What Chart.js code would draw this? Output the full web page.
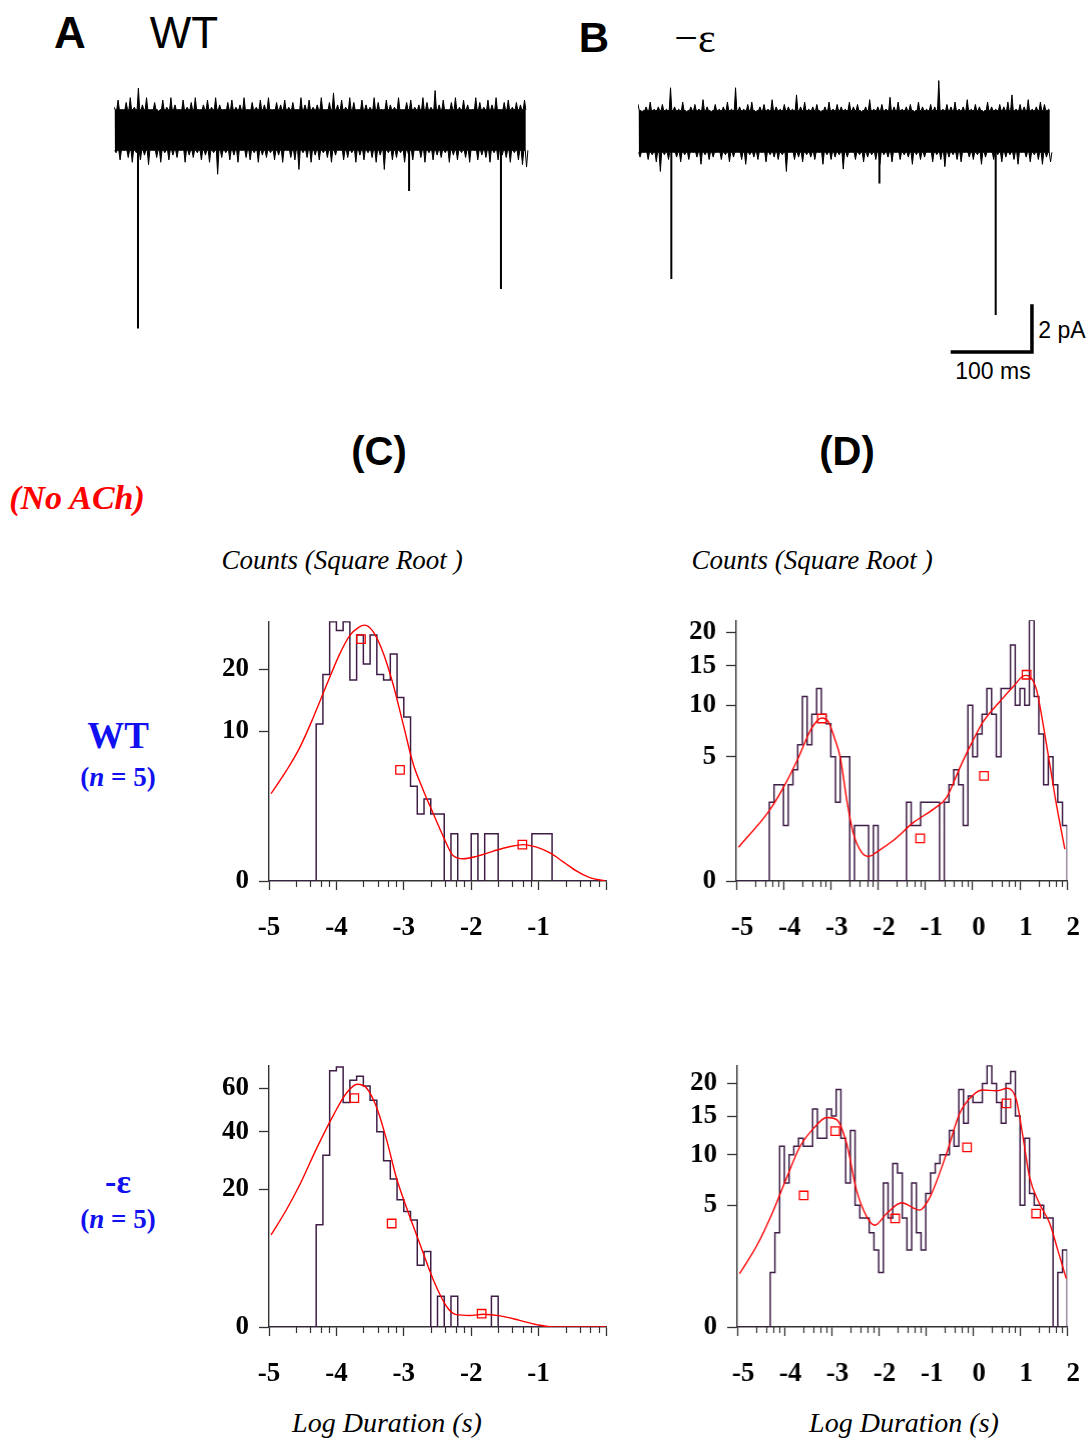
<!DOCTYPE html>
<html>
<head>
<meta charset="utf-8">
<script src="https://cdn.jsdelivr.net/npm/chart.js@4.4.1/dist/chart.umd.min.js"></script>
<style>
  html, body { margin: 0; padding: 0; background: #fff; }
  body { width: 1089px; height: 1440px; position: relative; overflow: hidden; }
  canvas { position: absolute; }
  .t { position: absolute; white-space: nowrap; line-height: 1; transform: translate(-50%, -50%); }
  .sans { font-family: 'Liberation Sans', Arial, sans-serif; }
  .serif { font-family: 'Liberation Serif', 'Times New Roman', serif; }
  .blue { color: #1010f0; font-weight: bold; }
</style>
</head>
<body>

<div class="t sans" style="left:70px; top:33px; font-size:44px; font-weight:bold">A</div>
<div class="t sans" style="left:184px; top:33px; font-size:44px">WT</div>
<div class="t sans" style="left:594px; top:38px; font-size:42px; font-weight:bold">B</div>
<div class="t serif" style="left:695px; top:38px; font-size:42px">&minus;&epsilon;</div>
<div class="t sans" style="left:1062px; top:330px; font-size:23px">2 pA</div>
<div class="t sans" style="left:993px; top:371px; font-size:23px">100 ms</div>

<div class="t sans" style="left:379px; top:451px; font-size:40px; font-weight:bold">(C)</div>
<div class="t sans" style="left:847px; top:451px; font-size:40px; font-weight:bold">(D)</div>
<div class="t serif" style="left:77px; top:498px; font-size:34px; font-weight:bold; font-style:italic; color:#ff0000">(No ACh)</div>

<div class="t serif" style="left:342px; top:560px; font-size:27px; font-style:italic">Counts (Square Root )</div>
<div class="t serif" style="left:812px; top:560px; font-size:27px; font-style:italic">Counts (Square Root )</div>

<div class="t serif blue" style="left:118px; top:735px; font-size:37px">WT</div>
<div class="t serif blue" style="left:118px; top:777px; font-size:27px">(<i>n</i> = 5)</div>
<div class="t serif blue" style="left:118px; top:1182px; font-size:34px">-&epsilon;</div>
<div class="t serif blue" style="left:118px; top:1219px; font-size:27px">(<i>n</i> = 5)</div>

<div class="t serif" style="left:387px; top:1423px; font-size:28px; font-style:italic">Log Duration (s)</div>
<div class="t serif" style="left:904px; top:1423px; font-size:28px; font-style:italic">Log Duration (s)</div>

<script>
// ---- single-channel traces (pA vs ms), noise peaks sampled every 5 ms ----
const traceStep = 5;
const coreA = [0.8, -0.9];   // edges of the dense noise band
const coreB = [0.85, -0.9];
const upperA = [
  0.9,1.2,0.8,1.1,1.3,0.9,1.7,1.0,1.3,0.8,
  1.1,0.7,1.2,0.9,1.3,1.0,0.8,1.2,0.9,1.1,
  1.3,0.8,1.0,1.2,0.9,1.3,1.0,0.8,1.1,1.2,
  0.9,1.0,1.3,0.8,1.1,0.9,1.2,1.0,1.3,0.8,
  1.1,1.0,1.2,0.9,1.1,0.8,1.3,1.0,1.2,0.9,
  1.0,1.3,0.8,1.1,1.5,1.0,1.2,0.9,1.3,1.1,
  0.8,1.2,1.0,0.9,1.3,1.1,0.8,1.2,1.0,0.9,
  1.3,0.8,1.1,1.2,0.9,1.0,1.3,1.1,0.9,1.6,
  1.0,1.2,0.8,1.1,1.3,0.9,1.2,1.0,0.8,1.3,
  1.1,0.9,1.2,1.0,1.3,0.8,1.1,1.2,0.9,1.1,
  1.0,1.2
];
const lowerA = [
  -1.0,-1.3,-0.9,-1.2,-1.4,-1.0,-1.3,-1.1,-1.5,-0.9,
  -1.2,-1.4,-1.0,-1.3,-1.1,-1.2,-0.9,-1.4,-1.1,-1.2,
  -1.0,-1.3,-1.1,-1.4,-1.0,-1.9,-1.2,-1.0,-1.3,-1.1,
  -1.4,-0.9,-1.2,-1.3,-1.0,-1.4,-1.1,-1.2,-1.0,-1.3,
  -1.1,-1.4,-0.9,-1.2,-1.3,-1.7,-1.0,-1.2,-1.4,-1.1,
  -1.3,-1.0,-1.2,-1.4,-1.1,-0.9,-1.3,-1.2,-1.0,-1.4,
  -1.1,-1.3,-1.0,-1.2,-1.4,-1.1,-1.7,-1.0,-1.3,-1.2,
  -1.0,-1.4,-1.1,-1.3,-0.9,-1.2,-1.4,-1.0,-1.3,-1.1,
  -1.2,-1.0,-1.4,-1.1,-1.3,-1.0,-1.2,-1.4,-0.9,-1.3,
  -1.1,-1.2,-1.4,-1.0,-1.3,-1.1,-1.2,-1.4,-1.0,-1.3,
  -1.5,-1.6
];
const upperB = [
  1.1,0.8,1.0,1.2,0.9,1.0,1.1,0.9,1.8,1.0,
  0.9,1.2,0.8,1.0,1.1,0.9,1.3,1.0,0.8,1.1,
  0.9,1.0,1.2,0.9,1.8,1.0,0.9,1.1,1.2,0.8,
  1.0,1.1,0.9,1.3,1.0,0.9,1.1,1.0,0.9,1.5,
  1.0,1.2,0.9,1.0,1.1,0.8,1.0,1.2,0.9,1.1,
  1.0,0.9,1.2,1.0,1.1,0.8,1.0,1.3,0.9,1.0,
  1.1,0.9,1.4,1.0,1.2,0.9,1.0,1.1,0.8,1.2,
  1.0,0.9,1.1,1.0,2.1,0.9,1.1,1.0,1.2,0.9,
  1.0,1.3,0.9,1.1,1.0,0.8,1.2,1.0,0.9,1.1,
  1.0,1.2,1.5,0.9,1.1,1.0,1.3,0.9,1.0,1.2,
  1.1,0.9
];
const lowerB = [
  -1.1,-0.9,-1.2,-1.0,-1.3,-1.7,-1.0,-1.2,-0.9,-1.1,
  -1.3,-1.0,-1.2,-0.9,-1.1,-1.4,-1.0,-1.2,-1.1,-0.9,
  -1.2,-1.0,-1.3,-1.1,-0.9,-1.2,-1.4,-1.0,-1.1,-1.2,
  -0.9,-1.3,-1.0,-1.1,-1.2,-1.0,-1.7,-0.9,-1.2,-1.1,
  -1.3,-1.0,-1.1,-1.2,-0.9,-1.4,-1.0,-1.2,-1.1,-1.0,
  -1.6,-1.1,-0.9,-1.2,-1.0,-1.3,-1.1,-1.0,-1.2,-1.4,
  -1.0,-1.1,-1.3,-0.9,-1.2,-1.0,-1.1,-1.4,-1.0,-1.2,
  -1.1,-0.9,-1.3,-1.0,-1.2,-1.5,-1.1,-1.0,-1.2,-1.3,
  -0.9,-1.1,-1.2,-1.0,-1.4,-1.1,-0.9,-1.2,-1.0,-1.3,
  -1.1,-1.0,-1.2,-1.4,-0.9,-1.1,-1.3,-1.0,-1.2,-1.4,
  -1.1,-1.3
];
// openings: [time ms, amplitude pA]
const openingsA = [[29.5, -8.35], [363, -2.6], [476, -6.7]];
const openingsB = [[41, -6.2], [297, -2.2], [440, -7.7]];
// calibration bar: 100 ms, 2 pA, corner at [ms, pA]
const barMs = 100, barPA = 2, barCorner = [484.6, -9.25];

// ---- dwell-time histograms: 0.1 log-unit bins starting at -5 ----
const binStart = -5, binWidth = 0.1;
const countsWT_C = [
  0,0,0,0,0,0,0,11,19,30,
  28,30,18,27,21,27,19,18,23,15,
  12,4,2,3,2,2,0,1,0,0,
  1,0,1,1,0,0,0,0,0,1,
  1,1,0,0,0,0,0,0,0,0
];
const countsWT_D = [
  0,0,0,0,0,0,0,2,3,3,
  1,3,4,6,11,6,9,12,9,8,
  5,2,5,5,0,1,1,1,0,1,
  0,0,0,0,0,0,2,1,1,2,
  2,2,2,0,2,3,4,3,1,10,
  5,7,9,12,9,5,12,12,18,10,
  12,10,22,11,7,3,5,3,2,1
];
const countsEps_C = [
  0,0,0,0,0,0,0,11,31,69,
  71,53,64,66,61,54,40,29,23,17,
  14,12,4,6,0,1,0,1,0,0,
  0,0,0,1,0,0,0,0,0,0,
  0,0,0,0,0,0,0,0,0,0
];
const countsEps_D = [
  0,0,0,0,0,0,0,1,3,11,
  7,10,11,12,11,11,16,12,12,16,
  15,19,12,7,13,5,4,4,3,2,
  1,7,4,9,8,4,2,7,3,2,
  6,8,9,10,10,13,11,19,14,18,
  17,17,20,23,20,17,14,20,22,15,
  5,12,6,5,5,4,4,0,1,2
];

// fitted curves [log duration, count]
const fitWT_C = [[-4.97,3.4],[-4.74,5.45],[-4.54,8.0],[-4.34,12.0],[-4.14,17.3],[-3.95,23.0],[-3.80,26.9],[-3.67,28.7],[-3.58,29.2],[-3.45,27.6],[-3.30,23.0],[-3.16,17.3],[-3.01,11.0],[-2.86,6.1],[-2.71,3.66],[-2.56,2.0],[-2.41,0.86],[-2.27,0.29],[-2.12,0.22],[-1.92,0.27],[-1.67,0.40],[-1.42,0.53],[-1.23,0.59],[-1.03,0.51],[-0.83,0.35],[-0.63,0.16],[-0.44,0.045],[-0.24,0.005],[-0.01,0]];
const fitWT_D = [[-4.95,0.37],[-4.30,1.60],[-4.0,2.83],[-3.70,4.79],[-3.40,7.59],[-3.19,8.6],[-3.05,8.2],[-2.92,6.6],[-2.80,4.97],[-2.66,2.08],[-2.52,0.72],[-2.35,0.27],[-2.20,0.195],[-2.0,0.29],[-1.68,0.53],[-1.25,1.11],[-0.83,1.67],[-0.55,2.26],[-0.27,4.16],[0.0,6.33],[0.23,8.26],[0.58,10.45],[0.86,12.25],[1.11,13.67],[1.21,13.5],[1.35,11.84],[1.49,7.92],[1.63,4.41],[1.77,1.91],[1.95,0.33]];
const fitEps_C = [[-4.97,8.9],[-4.75,14.2],[-4.54,21.4],[-4.29,33.7],[-4.04,47.4],[-3.85,57.5],[-3.69,61.9],[-3.55,59.9],[-3.40,50.4],[-3.25,36.3],[-3.11,23.4],[-2.96,15.0],[-2.76,7.2],[-2.56,2.3],[-2.36,0.42],[-2.22,0.16],[-2.02,0.14],[-1.82,0.17],[-1.57,0.13],[-1.28,0.046],[-1.03,0.006],[-0.78,0],[0,0]];
const fitEps_D = [[-4.95,0.96],[-4.58,2.25],[-4.23,4.6],[-4.0,6.94],[-3.67,10.95],[-3.38,13.3],[-3.10,14.8],[-2.89,14.5],[-2.68,11.36],[-2.47,6.31],[-2.25,4.09],[-2.08,3.49],[-1.83,4.34],[-1.51,5.2],[-1.13,4.6],[-0.91,5.71],[-0.56,10.15],[-0.28,15.4],[0.0,18.1],[0.21,18.93],[0.49,18.8],[0.74,19.2],[0.92,17.4],[1.06,12.2],[1.2,7.6],[1.41,5.14],[1.63,3.61],[1.80,1.99],[1.98,0.79]];

// component markers
const sqWT_C = [[-3.635,26.1],[-3.056,5.5],[-1.241,0.59]];
const sqWT_D = [[-3.19,8.54],[-1.11,0.59],[0.24,3.57],[1.14,13.76]];
const sqEps_C = [[-3.734,55.0],[-3.18,11.25],[-1.845,0.185]];
const sqEps_D = [[-3.59,5.83],[-2.92,12.94],[-1.65,3.97],[-0.125,10.87],[0.71,16.85],[1.34,4.34]];

// axis ticks
const ticksC_x = [-5,-4,-3,-2,-1,0];
const labelsC_x = [-5,-4,-3,-2,-1];
const ticksD_x = [-5,-4,-3,-2,-1,0,1,2];
const ticksWT_C_y = [0,10,20];
const ticksWT_D_y = [0,5,10,15,20];
const ticksEps_C_y = [0,20,40,60];
const ticksEps_D_y = [0,5,10,15,20];
const minorFrac = [0.40, 0.61, 0.77, 0.89];

// square-root count axis
class SqrtScale extends Chart.LinearScale {
  getPixelForValue(value) {
    const lo = Math.sqrt(this.min), hi = Math.sqrt(this.max);
    return this.getPixelForDecimal((Math.sqrt(Math.max(value, 0)) - lo) / (hi - lo));
  }
  getValueForPixel(pixel) {
    const lo = Math.sqrt(this.min), hi = Math.sqrt(this.max);
    const s = lo + this.getDecimalForPixel(pixel) * (hi - lo);
    return s * s;
  }
}
SqrtScale.id = 'sqrt';
SqrtScale.defaults = Chart.LinearScale.defaults;
Chart.register(SqrtScale);

const minorTicks = {
  id: 'minorTicks',
  afterDraw(chart) {
    const s = chart.scales.x;
    const ctx = chart.ctx;
    ctx.save();
    ctx.strokeStyle = '#333';
    ctx.lineWidth = 1.2;
    ctx.beginPath();
    for (let d = Math.floor(s.min); d < s.max; d++) {
      for (const f of minorFrac) {
        const x = Math.round(s.getPixelForValue(d + f)) + 0.5;
        ctx.moveTo(x, s.top);
        ctx.lineTo(x, s.top + 6);
      }
    }
    ctx.stroke();
    ctx.restore();
  }
};

function addCanvas(left, top, width, height) {
  const c = document.createElement('canvas');
  c.width = width; c.height = height;
  c.style.left = left + 'px'; c.style.top = top + 'px';
  c.style.width = width + 'px'; c.style.height = height + 'px';
  document.body.appendChild(c);
  return c;
}

const PAD_L = 90, PAD_T = 12, PAD_R = 22, PAD_B = 75;
const tickFont = { family: 'Liberation Serif', weight: 'bold', size: 27 };
const axisColor = '#333';

function histConfig(p) {
  const steps = p.counts.map((c, i) => ({ x: binStart + i * binWidth, y: c }));
  steps.push({ x: binStart + p.counts.length * binWidth, y: 0 });
  return {
    type: 'line',
    data: {
      datasets: [
        { data: steps, stepped: true, borderColor: '#3f1d47', borderWidth: 1.5,
          pointRadius: 0, fill: false, order: 3 },
        { data: p.fit.map(q => ({ x: q[0], y: q[1] })), borderColor: '#ff0000', borderWidth: 1.4,
          pointRadius: 0, cubicInterpolationMode: 'monotone', fill: false, order: 2 },
        { data: p.squares.map(q => ({ x: q[0], y: q[1] })), showLine: false, pointStyle: 'rect',
          pointRadius: 6, borderColor: '#ff0000', backgroundColor: 'rgba(255,255,255,0)',
          borderWidth: 1.3, order: 1 }
      ]
    },
    options: {
      responsive: false, maintainAspectRatio: false, animation: false, events: [],
      layout: { padding: { top: PAD_T, right: PAD_R, left: 0, bottom: 0 } },
      plugins: { legend: { display: false }, tooltip: { enabled: false } },
      scales: {
        x: {
          type: 'linear', min: p.xMin, max: p.xMax,
          afterBuildTicks: s => { s.ticks = p.xTicks.map(v => ({ value: v })); },
          afterFit: s => { s.height = PAD_B; },
          grid: { drawOnChartArea: false, tickLength: 9, tickColor: axisColor, tickWidth: 1.3 },
          border: { color: axisColor, width: 1.4 },
          ticks: { callback: v => p.xLabels.includes(v) ? String(v) : '', font: tickFont, color: '#000',
            padding: 22, maxRotation: 0, autoSkip: false, labelOffset: p.labelShift }
        },
        y: {
          type: 'sqrt', min: 0, max: p.yMax,
          afterBuildTicks: s => { s.ticks = p.yTicks.map(v => ({ value: v })); },
          afterFit: s => { s.width = PAD_L; },
          grid: { drawOnChartArea: false, tickLength: 10, tickColor: axisColor, tickWidth: 1.3 },
          border: { color: axisColor, width: 1.4 },
          ticks: { callback: v => String(v), font: tickFont, color: '#000', padding: 10 }
        }
      }
    },
    plugins: [minorTicks]
  };
}

// place the canvas so that the plot area lands on the given page box
function histogram(area, p) {
  const aw = area.right - area.left, ah = area.bottom - area.top;
  const w0 = aw + PAD_L + PAD_R, h0 = ah + PAD_T + PAD_B;
  const probeCanvas = addCanvas(0, 0, w0, h0);
  const probe = new Chart(probeCanvas, histConfig(p));
  const ca = probe.chartArea;
  const w = w0 + aw - (ca.right - ca.left);
  const h = h0 + ah - (ca.bottom - ca.top);
  const left = area.left - ca.left, top = area.top - ca.top;
  probe.destroy();
  probeCanvas.remove();
  new Chart(addCanvas(left, top, w, h), histConfig(p));
}

histogram({ left: 269, right: 606, top: 621, bottom: 881 }, {
  xMin: -5, xMax: 0, counts: countsWT_C, fit: fitWT_C, squares: sqWT_C, yMax: 30.1,
  yTicks: ticksWT_C_y, xTicks: ticksC_x, xLabels: labelsC_x, labelShift: 0 });
histogram({ left: 736, right: 1067, top: 620, bottom: 881 }, {
  xMin: -5, xMax: 2, counts: countsWT_D, fit: fitWT_D, squares: sqWT_D, yMax: 22,
  yTicks: ticksWT_D_y, xTicks: ticksD_x, xLabels: ticksD_x, labelShift: 6 });
histogram({ left: 269, right: 606, top: 1065, bottom: 1327 }, {
  xMin: -5, xMax: 0, counts: countsEps_C, fit: fitEps_C, squares: sqEps_C, yMax: 72,
  yTicks: ticksEps_C_y, xTicks: ticksC_x, xLabels: labelsC_x, labelShift: 0 });
histogram({ left: 737, right: 1067, top: 1065, bottom: 1327 }, {
  xMin: -5, xMax: 2, counts: countsEps_D, fit: fitEps_D, squares: sqEps_D, yMax: 23.1,
  yTicks: ticksEps_D_y, xTicks: ticksD_x, xLabels: ticksD_x, labelShift: 6 });

// ---- current traces ----
// each noise peak is a narrow spike rising out of the dense core band
const spikeHalfWidth = 1.6;
function trace(left, top, upper, lower, core, openings, withBar) {
  const canvas = addCanvas(left, top, 415, 287);
  const topEdge = upper.flatMap((u, i) => {
    const t = i * traceStep;
    return [{ x: t - spikeHalfWidth, y: core[0] }, { x: t, y: u }, { x: t + spikeHalfWidth, y: core[0] }];
  });
  const bottomEdge = lower.flatMap((l, i) => {
    const t = i * traceStep + traceStep / 2;
    return [{ x: t - spikeHalfWidth, y: core[1] }, { x: t, y: l }, { x: t + spikeHalfWidth, y: core[1] }];
  });
  const events = openings.flatMap(o => [{ x: o[0], y: -0.5 }, { x: o[0], y: o[1] }, { x: o[0], y: null }]);
  const datasets = [
    { data: topEdge, borderColor: '#000', backgroundColor: '#000', borderWidth: 1, pointRadius: 0,
      tension: 0, fill: '+1' },
    { data: bottomEdge, borderColor: '#000', borderWidth: 1, pointRadius: 0, tension: 0, fill: false },
    { data: events, borderColor: '#000', borderWidth: 2, pointRadius: 0, spanGaps: false, fill: false }
  ];
  if (withBar) {
    datasets.push({
      data: [{ x: barCorner[0] - barMs, y: barCorner[1] }, { x: barCorner[0], y: barCorner[1] },
             { x: barCorner[0], y: barCorner[1] + barPA }],
      borderColor: '#000', borderWidth: 3.5, pointRadius: 0, borderJoinStyle: 'miter', fill: false
    });
  }
  new Chart(canvas, {
    type: 'line',
    data: { datasets },
    options: {
      responsive: false, maintainAspectRatio: false, animation: false, events: [],
      layout: { padding: 0 },
      plugins: { legend: { display: false }, tooltip: { enabled: false } },
      scales: {
        x: { type: 'linear', min: 0, max: 510.5, display: false },
        y: { type: 'linear', min: -9.5, max: 2.5, display: false }
      }
    }
  });
}

trace(114, 69, upperA, lowerA, coreA, openingsA, false);
trace(638, 71, upperB, lowerB, coreB, openingsB, true);
</script>
</body>
</html>
